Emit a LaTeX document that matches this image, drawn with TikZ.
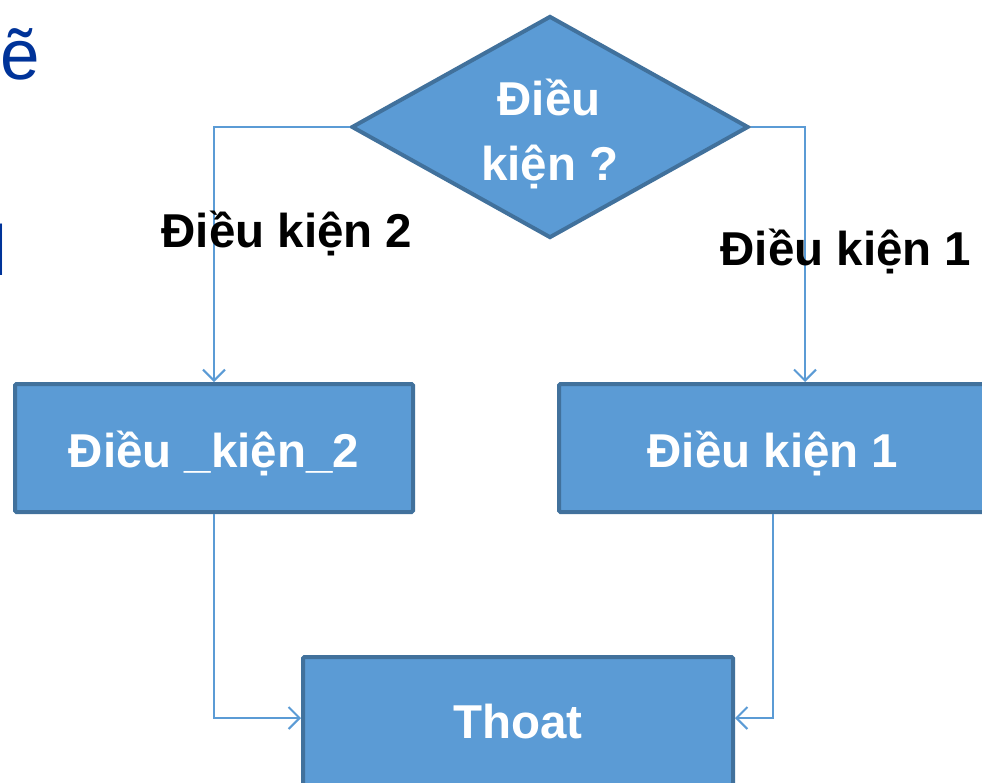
\documentclass[tikz,border=0pt]{standalone}
\usepackage{fontspec}
\setmainfont{Liberation Sans}
\usetikzlibrary{shapes.geometric,arrows.meta}
\definecolor{boxfill}{HTML}{5B9BD5}
\definecolor{boxedge}{HTML}{41719C}
\definecolor{titleblue}{HTML}{003399}

\tikzset{
  flowbox/.style={draw=boxedge, fill=boxfill, line width=4pt, rounded corners=1.5pt,
    inner sep=0pt, text=white, font=\fontsize{47.5}{57}\selectfont\bfseries,
    text height=38pt, text depth=0pt},
  decision/.style={diamond, draw=boxedge, fill=boxfill, line width=4pt, inner sep=0pt,
    minimum width=397pt, minimum height=222pt},
  dtext/.style={inner sep=0pt, text=white, font=\fontsize{47.5}{57}\selectfont\bfseries},
  branch/.style={inner sep=0pt, text=black, font=\fontsize{47.5}{57}\selectfont\bfseries},
  flow/.style={draw=boxfill, line width=2pt, -{Straight Barb[length=11pt,width=22pt]}},
  edgetext/.style={inner sep=0pt, text=titleblue, font=\fontsize{71}{80}\selectfont}
}

\begin{document}
\begin{tikzpicture}[x=1pt,y=-1pt]
  \useasboundingbox (0,0) rectangle (982,782);
  \clip (0,0) rectangle (982,782);
  \fill[white] (0,0) rectangle (982,782);

  % fragments of the slide text at the left edge
  \node[edgetext, anchor=base west] (frag1) at (0,79) {ẽ};
  \node[edgetext, anchor=base west] (frag2) at (-9,275) {l};

  % decision and process boxes
  \node[decision] (d) at (550,127) {};
  \node[dtext, anchor=base] (q1) at (549,115) {Điều};
  \node[dtext, anchor=base] (q2) at (550,180) {kiện ?};

  \node[flowbox, minimum width=398pt, minimum height=128pt] (b2) at (214,448) {Điều \_kiện\_2};
  \node[flowbox, minimum width=428pt, minimum height=128pt] (b1) at (773,448) {Điều kiện 1};
  \node[flowbox, minimum width=430pt, minimum height=128pt, text height=34pt] (t) at (518,721) {Thoat};

  % connectors
  \draw[flow] (d.west) -| (b2.north);
  \draw[flow] (d.east) -| ([xshift=32pt]b1.north);
  \draw[flow] (b2.south) |- ([yshift=3pt]t.west);
  \draw[flow] (b1.south) |- ([yshift=3pt]t.east);

  % branch labels
  \node[branch, anchor=base] (l2) at (287,247) {Điều kiện 2};
  \node[branch, anchor=base] (l1) at (846,265) {Điều kiện 1};
\end{tikzpicture}
\end{document}
